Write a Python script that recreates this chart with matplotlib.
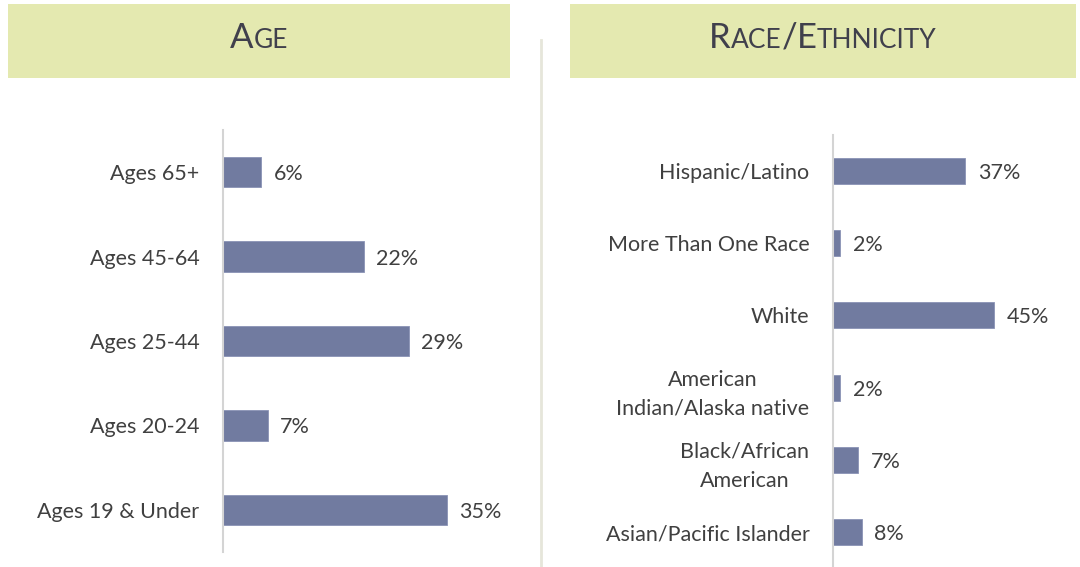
import matplotlib.pyplot as plt
from matplotlib.patches import Rectangle
from matplotlib.lines import Line2D
from matplotlib.offsetbox import TextArea, HPacker, AnnotationBbox

plt.rcParams['font.family'] = ['Lato', 'DejaVu Sans']

# data
age_labels = ['Ages 65+', 'Ages 45-64', 'Ages 25-44', 'Ages 20-24', 'Ages 19 & Under']
age_values = [6, 22, 29, 7, 35]

race_labels = ['Hispanic/Latino', 'More Than One Race', 'White',
               'American\nIndian/Alaska native', 'Black/African\nAmerican',
               'Asian/Pacific Islander']
race_values = [37, 2, 45, 2, 7, 8]

bar_color = '#717ba0'
text_color = '#404040'
head_color = '#e4e9b0'
title_color = '#40404c'
fs = 15.5

fig = plt.figure(figsize=(10.8, 5.67), dpi=100)

# header boxes
fig.add_artist(Rectangle((0.0074, 0.8624), 0.4648, 0.1305, transform=fig.transFigure,
                         facecolor=head_color, edgecolor='none'))
fig.add_artist(Rectangle((0.5278, 0.8624), 0.4685, 0.1305, transform=fig.transFigure,
                         facecolor=head_color, edgecolor='none'))

# separator line
fig.add_artist(Line2D([0.501, 0.501], [0.0, 0.93], transform=fig.transFigure,
                      color='#e6e6da', linewidth=2))


def smallcaps_title(parts, x, y):
    # parts: list of (text, big?)
    kids = []
    for txt, big in parts:
        kids.append(TextArea(txt, textprops=dict(size=25 if big else 19, color=title_color)))
    box = HPacker(children=kids, align='baseline', pad=0, sep=0)
    ab = AnnotationBbox(box, (x, y), xycoords='figure fraction', frameon=False,
                        box_alignment=(0.5, 0.5))
    fig.add_artist(ab)


smallcaps_title([('A', True), ('GE', False)], 0.2398, 0.933)
smallcaps_title([('R', True), ('ACE', False), ('/', True), ('E', True), ('THNICITY', False)],
                0.762, 0.933)


def draw_bars(ax, labels, values, xmax):
    y = list(range(len(labels)))
    ax.barh(y, values, height=0.36, color=bar_color, edgecolor='#8a93b5', linewidth=0.6)
    ax.set_ylim(len(labels) - 0.5, -0.5)
    ax.set_xlim(0, xmax)
    ax.set_yticks(y)
    ax.set_yticklabels(labels, fontsize=fs, color=text_color)
    for lab in ax.get_yticklabels():
        lab.set_multialignment('center')
        lab.set_linespacing(1.55)
    ax.tick_params(axis='y', length=0, pad=17)
    ax.set_xticks([])
    for s in ['top', 'right', 'bottom']:
        ax.spines[s].set_visible(False)
    ax.spines['left'].set_color('#d4d4d4')
    ax.spines['left'].set_linewidth(1.5)
    for yi, v in zip(y, values):
        ax.annotate(f'{v}%', (v, yi), xytext=(9, 0), textcoords='offset points',
                    va='center_baseline', ha='left', fontsize=fs, color=text_color)


ax1 = fig.add_axes([0.2065, 0.0265, 0.2667, 0.7442])
draw_bars(ax1, age_labels, age_values, 45)

ax2 = fig.add_axes([0.7713, -0.002, 0.225, 0.764])
draw_bars(ax2, race_labels, race_values, 68)

fig.savefig('out.png', dpi=100)
